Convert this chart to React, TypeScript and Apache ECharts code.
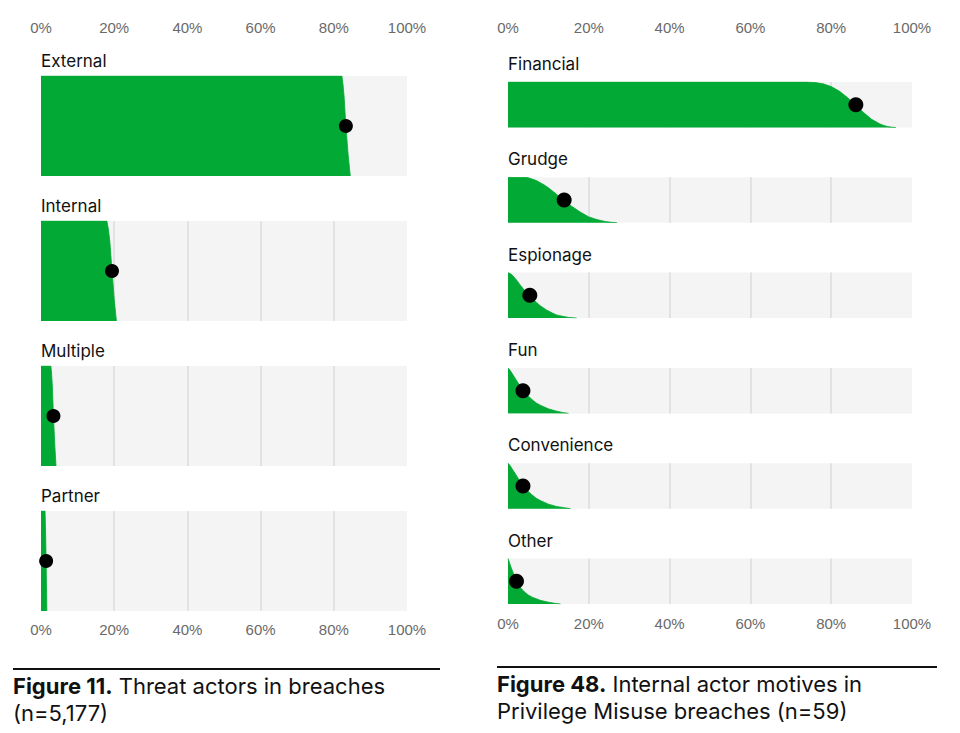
import React, { useEffect, useRef } from "react";
import * as echarts from "echarts";

// ---------- DATA ----------
const leftCategories = ["External", "Internal", "Multiple", "Partner"];
const leftMedians = [83.3, 19.4, 3.4, 1.4];
const externalCurve = [[0, 1], [82.2, 1], [82.5, 0.92], [82.8, 0.8], [83.3, 0.5], [83.9, 0.22], [84.5, 0]];
const internalCurve = [[0, 1], [18.0, 1], [18.4, 0.92], [18.8, 0.8], [19.4, 0.5], [20.0, 0.22], [20.6, 0]];
const multipleCurve = [[0, 1], [2.7, 1], [2.9, 0.92], [3.1, 0.8], [3.4, 0.5], [3.75, 0.22], [4.1, 0]];
const partnerCurve = [[0, 1], [1.1, 1], [1.25, 0.8], [1.4, 0.5], [1.6, 0]];
const leftCurves = [externalCurve, internalCurve, multipleCurve, partnerCurve];

const rightCategories = ["Financial", "Grudge", "Espionage", "Fun", "Convenience", "Other"];
const rightMedians = [86.1, 13.9, 5.4, 3.7, 3.7, 2.1];
const financialCurve = [[0, 1], [74, 1], [76, 0.99], [78, 0.96], [80, 0.9], [82, 0.8], [84, 0.66], [86, 0.5], [88, 0.33], [90, 0.18], [92, 0.08], [93, 0.045], [94, 0.02], [95, 0.007], [96, 0]];
const grudgeCurve = [[0, 1], [4, 1], [5, 0.99], [6, 0.96], [7, 0.93], [8, 0.88], [9, 0.83], [10, 0.77], [12, 0.63], [14, 0.48], [16, 0.35], [18, 0.23], [20, 0.13], [22, 0.07], [24, 0.03], [25.5, 0.012], [27, 0]];
const espionageCurve = [[0, 1], [0.5, 0.98], [1, 0.95], [2, 0.85], [3, 0.73], [4, 0.62], [5, 0.52], [6, 0.43], [7, 0.35], [8, 0.27], [9.5, 0.18], [11, 0.11], [12, 0.07], [13.5, 0.04], [15, 0.015], [17, 0]];
const funCurve = [[0, 1], [0.5, 0.95], [1, 0.88], [2, 0.74], [3, 0.6], [4, 0.48], [5, 0.38], [6, 0.3], [7, 0.23], [8, 0.18], [10, 0.1], [12, 0.05], [13.5, 0.02], [15, 0]];
const convenienceCurve = [[0, 1], [0.5, 0.95], [1, 0.88], [2, 0.74], [3, 0.6], [4, 0.48], [5, 0.38], [6, 0.3], [7, 0.23], [8, 0.18], [10, 0.1], [12, 0.05], [14, 0.02], [15.5, 0]];
const otherCurve = [[0, 1], [0.5, 0.87], [1, 0.75], [2, 0.52], [3, 0.37], [4, 0.27], [5, 0.2], [6, 0.15], [8, 0.08], [10, 0.04], [11.5, 0.015], [13, 0]];
const rightCurves = [financialCurve, grudgeCurve, espionageCurve, funCurve, convenienceCurve, otherCurve];

const tickValues = [0, 20, 40, 60, 80, 100];
const leftCaption = ["{b|Figure 11.} Threat actors in breaches", "(n=5,177)"];
const rightCaption = ["{b|Figure 48.} Internal actor motives in", "Privilege Misuse breaches (n=59)"];

// ---------- STYLE / LAYOUT ----------
const FONT = "'Liberation Sans', Arial, Helvetica, sans-serif";
const LABEL_FONT = "Inter, 'Liberation Sans', Arial, sans-serif";
const GREEN = "#02a934";
const BG = "#f4f4f4";
const GRIDLINE = "#dcdcdc";
const TICK = "#6a6a6a";

const panels = [
  { cats: leftCategories, medians: leftMedians, curves: leftCurves, left: 41, width: 366, top0: 76, step: 145, height: 100, labelGap: 14, topMargin: 41, bottomMargin: 11, dot: 14, caption: leftCaption, capX: 13, lineX1: 13, lineX2: 440, lineY: 669, capY: 672 },
  { cats: rightCategories, medians: rightMedians, curves: rightCurves, left: 508, width: 404, top0: 82, step: 95.3, height: 45.5, labelGap: 16.5, topMargin: 47, bottomMargin: 12, dot: 15, caption: rightCaption, capX: 497, lineX1: 497, lineX2: 937, lineY: 667, capY: 670 },
];

export default function App() {
  const ref = useRef<HTMLDivElement>(null);
  useEffect(() => {
    if (!ref.current) return;
    const chart = echarts.init(ref.current, undefined, { renderer: "svg" });
    const grid: any[] = [];
    const xAxis: any[] = [];
    const yAxis: any[] = [];
    const series: any[] = [];
    const graphic: any[] = [];
    let idx = 0;
    panels.forEach((p) => {
      const n = p.cats.length;
      p.cats.forEach((cat, i) => {
        const top = p.top0 + i * p.step;
        grid.push({ left: p.left, width: p.width, top, height: p.height, show: true, backgroundColor: BG, borderWidth: 0, containLabel: false });
        const isFirst = i === 0;
        const isLast = i === n - 1;
        xAxis.push({
          type: "value",
          gridIndex: idx,
          min: 0,
          max: 100,
          interval: 20,
          position: isFirst ? "top" : "bottom",
          axisLine: { show: false },
          axisTick: { show: false },
          axisLabel: {
            show: isFirst || isLast,
            margin: isFirst ? p.topMargin : p.bottomMargin,
            color: TICK,
            fontSize: 15,
            fontFamily: FONT,
            formatter: (v: number) => (tickValues.includes(v) ? v + "%" : ""),
          },
          splitLine: {
            show: true,
            lineStyle: { color: ["transparent", GRIDLINE, GRIDLINE, GRIDLINE, GRIDLINE, "transparent"], width: 1.5 },
          },
        });
        yAxis.push({ type: "value", gridIndex: idx, min: 0, max: 1, show: false });
        series.push({
          type: "line",
          xAxisIndex: idx,
          yAxisIndex: idx,
          data: p.curves[i],
          smooth: false,
          showSymbol: false,
          symbol: "none",
          lineStyle: { width: 0.8, color: GREEN },
          areaStyle: { color: GREEN, opacity: 1 },
          z: 2,
          silent: true,
        });
        series.push({
          type: "scatter",
          xAxisIndex: idx,
          yAxisIndex: idx,
          data: [[p.medians[i], 0.5]],
          symbolSize: p.dot,
          itemStyle: { color: "#000", opacity: 1 },
          z: 3,
          silent: true,
        });
        graphic.push({
          type: "text",
          left: p.left,
          top: top - p.labelGap - 10,
          style: { text: cat, fontSize: 17, fontFamily: LABEL_FONT, fill: "#111" },
        });
        idx++;
      });
      graphic.push({
        type: "line",
        shape: { x1: p.lineX1, y1: p.lineY, x2: p.lineX2, y2: p.lineY },
        style: { stroke: "#111", lineWidth: 2 },
      });
      graphic.push({
        type: "text",
        x: p.capX,
        y: p.capY,
        style: {
          text: p.caption.join("\n"),
          fontSize: 22,
          lineHeight: 27,
          fontFamily: LABEL_FONT,
          fill: "#111",
          rich: {
            b: { fontSize: 22, lineHeight: 27, fontFamily: LABEL_FONT, fontWeight: "bold", fill: "#111" },
          },
        },
      });
    });

    chart.setOption({
      animation: false,
      backgroundColor: "#fff",
      textStyle: { fontFamily: FONT },
      grid,
      xAxis,
      yAxis,
      series,
      graphic,
    });
    return () => chart.dispose();
  }, []);
  return <div ref={ref} style={{ position: "absolute", left: 0, top: 0, width: 960, height: 733 }} />;
}
